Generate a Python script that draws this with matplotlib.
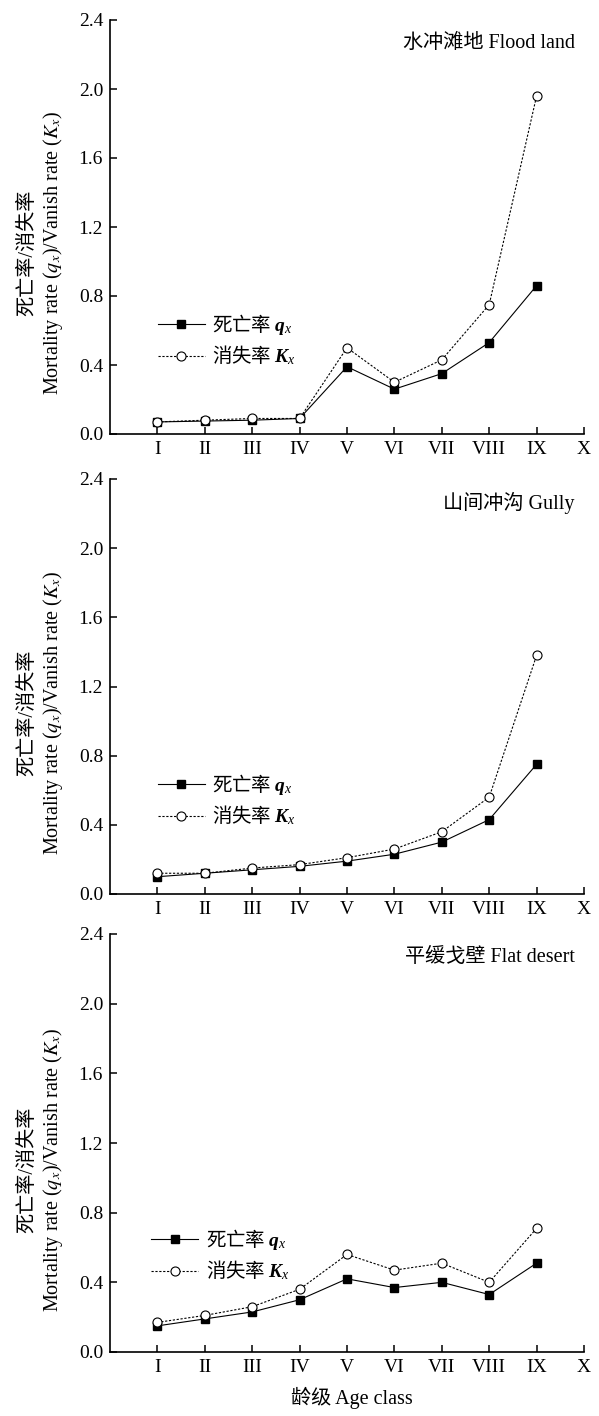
import matplotlib
matplotlib.use("Agg")
import matplotlib.pyplot as plt
from matplotlib.font_manager import FontProperties

plt.rcParams["font.family"] = ["Liberation Serif", "Noto Sans CJK SC"]
plt.rcParams["mathtext.fontset"] = "stix"
# custom math font only for the legend (CJK + italic q/K)
plt.rcParams["mathtext.rm"] = "Noto Sans CJK SC"
plt.rcParams["mathtext.it"] = "Liberation Serif:italic"
plt.rcParams["mathtext.bf"] = "Liberation Serif:italic:bold"

age_labels = ["I", "II", "III", "IV", "V", "VI", "VII", "VIII", "IX", "X"]
ages = [1, 2, 3, 4, 5, 6, 7, 8, 9]

habitats = ["水冲滩地 Flood land", "山间冲沟 Gully", "平缓戈壁 Flat desert"]

qx_flood = [0.07, 0.075, 0.08, 0.09, 0.39, 0.26, 0.35, 0.53, 0.86]
kx_flood = [0.07, 0.08, 0.09, 0.09, 0.50, 0.30, 0.43, 0.75, 1.96]

qx_gully = [0.10, 0.12, 0.14, 0.16, 0.19, 0.23, 0.30, 0.43, 0.75]
kx_gully = [0.12, 0.12, 0.15, 0.17, 0.21, 0.26, 0.36, 0.56, 1.38]

qx_desert = [0.15, 0.19, 0.23, 0.30, 0.42, 0.37, 0.40, 0.33, 0.51]
kx_desert = [0.17, 0.21, 0.26, 0.36, 0.56, 0.47, 0.51, 0.40, 0.71]

W, H = 599, 1416
fig = plt.figure(figsize=(W / 100, H / 100), dpi=100)

# pixel boxes (top, bottom) of each panel
boxes = [(20, 434), (479, 894), (934, 1352)]
leg_x = [0.101, 0.101, 0.087]
leg_y = [0.227, 0.227, 0.232]
series = [(qx_flood, kx_flood), (qx_gully, kx_gully), (qx_desert, kx_desert)]

leg_font = FontProperties(family=["Noto Sans CJK SC"], size=14,
                          math_fontfamily="custom")

for i, (top, bot) in enumerate(boxes):
    ax = fig.add_axes([110 / W, 1 - bot / H, 474 / W, (bot - top) / H])
    qx, kx = series[i]
    ax.plot(ages, qx, color="black", lw=0.8, marker="s", ms=6,
            mfc="black", mec="black", label="死亡率 $\\mathbf{q}_x$")
    ax.plot(ages, kx, color="black", lw=0.8, ls=(0, (2, 1.5)), marker="o", ms=6.5,
            mfc="white", mec="black", mew=0.8, label="消失率 $\\mathbf{K}_x$")

    ax.set_xlim(0, 10)
    ax.set_ylim(0, 2.4)
    ax.set_xticks(range(1, 11))
    ax.set_xticklabels(age_labels)
    ax.set_yticks([0, 0.4, 0.8, 1.2, 1.6, 2.0, 2.4])
    ax.set_yticklabels(["0.0", "0.4", "0.8", "1.2", "1.6", "2.0", "2.4"])
    ax.spines["top"].set_visible(False)
    ax.spines["right"].set_visible(False)
    ax.spines["left"].set_linewidth(1.2)
    ax.spines["bottom"].set_linewidth(1.2)
    ax.tick_params(direction="in", length=5, width=1.1, labelsize=14, pad=5)

    ax.text(0.981, 0.943, habitats[i], transform=ax.transAxes,
            ha="right", va="center", fontsize=14.5)

    ax.legend(loc="center left", bbox_to_anchor=(leg_x[i], leg_y[i]),
              frameon=False, prop=leg_font, handlelength=2.4, handletextpad=0.4,
              labelspacing=0.35, borderpad=0, borderaxespad=0)

    ax.set_ylabel("死亡率/消失率\nMortality rate ($q_x$)/Vanish rate ($K_x$)",
                  fontsize=14.5, linespacing=1.2)
    ax.yaxis.set_label_coords(-0.095, 0.437)

fig.text(352 / W, 1 - 1398 / H, "龄级 Age class", ha="center", va="center",
         fontsize=14.5)

fig.savefig("out.png", dpi=100)
